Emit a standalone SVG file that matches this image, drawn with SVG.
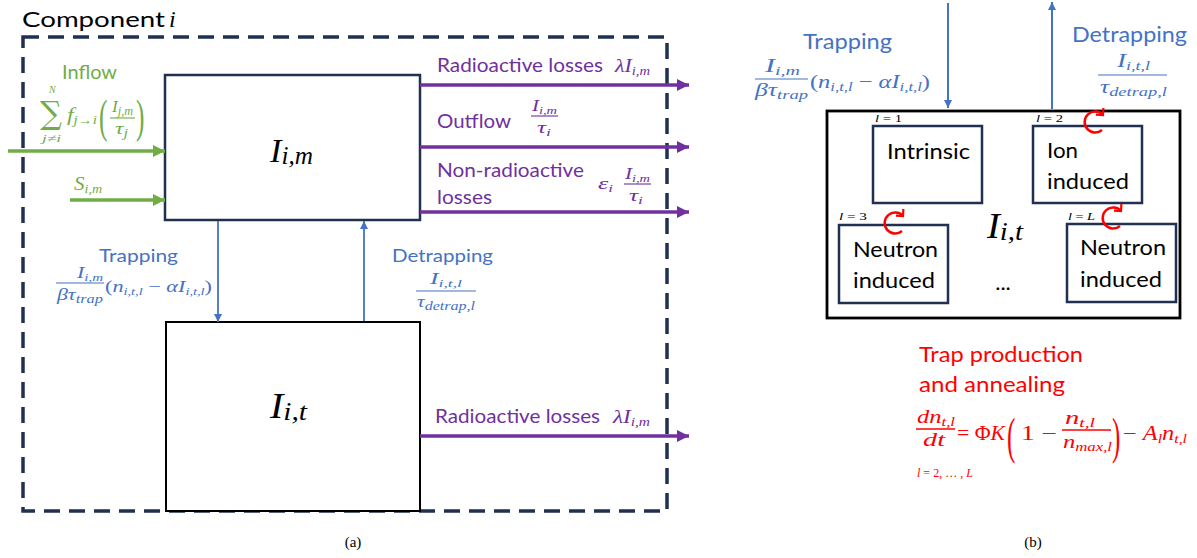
<svg xmlns="http://www.w3.org/2000/svg" width="1197" height="558" viewBox="0 0 1197 558">
<style>
.lbl{font-family:Lato,"Open Sans","Liberation Sans",sans-serif}
.m{font-family:"Liberation Serif","DejaVu Serif",serif;font-style:italic}
.n{font-style:normal}
.g{fill:#70ad47}.p{fill:#7030a0}.b{fill:#4472c4}.r{fill:#ff0000}.k{fill:#000}
.box{fill:#fff;stroke:#1f3050;stroke-width:2.5}
.bar{stroke-width:1.1}
</style>
<defs>
<marker id="ag" markerUnits="userSpaceOnUse" markerWidth="14" markerHeight="14" refX="12" refY="7" orient="auto"><path d="M0,1 L12,7 L0,13 Z" fill="#70ad47"/></marker>
<marker id="ap" markerUnits="userSpaceOnUse" markerWidth="14" markerHeight="14" refX="12" refY="7" orient="auto"><path d="M0,1 L12,7 L0,13 Z" fill="#7030a0"/></marker>
<marker id="ab" markerUnits="userSpaceOnUse" markerWidth="10" markerHeight="10" refX="8" refY="5" orient="auto"><path d="M0,1 L8,5 L0,9 Z" fill="#4472c4"/></marker>
<marker id="ar" markerUnits="userSpaceOnUse" markerWidth="12" markerHeight="12" refX="6" refY="6" orient="auto"><path d="M1,1 L6,6 L1,11" fill="none" stroke="#ff0000" stroke-width="2.2"/></marker>
</defs>

<!-- panel (a) -->
<g id="component">
<rect x="23" y="37" width="644" height="474" fill="none" stroke="#1f3050" stroke-width="3.5" stroke-dasharray="16 9"/>
<text x="22" y="27" class="lbl k" font-size="21" textLength="143" lengthAdjust="spacingAndGlyphs">Component</text>
<text x="169" y="27" class="m k" font-size="24">i</text>
</g>

<g id="node-Iim">
<rect class="box" x="165" y="75" width="255" height="145"/>
<text x="270" y="162" class="m k" font-size="34" textLength="43" lengthAdjust="spacingAndGlyphs">I<tspan font-size="25" dy="2">i,m</tspan></text>
</g>

<g id="node-Iit">
<rect x="166" y="322" width="254" height="189" fill="#fff" stroke="#000" stroke-width="2"/>
<text x="270" y="418" class="m k" font-size="35" textLength="37" lengthAdjust="spacingAndGlyphs">I<tspan font-size="26" dy="2">i,t</tspan></text>
</g>

<g id="connectors-a" fill="none">
<line x1="8" y1="151" x2="165" y2="151" stroke="#70ad47" stroke-width="3.5" marker-end="url(#ag)"/>
<line x1="70" y1="200" x2="165" y2="200" stroke="#70ad47" stroke-width="3.5" marker-end="url(#ag)"/>
<line x1="420" y1="85" x2="689" y2="85" stroke="#7030a0" stroke-width="3.5" marker-end="url(#ap)"/>
<line x1="420" y1="147" x2="689" y2="147" stroke="#7030a0" stroke-width="3.5" marker-end="url(#ap)"/>
<line x1="420" y1="212" x2="689" y2="212" stroke="#7030a0" stroke-width="3.5" marker-end="url(#ap)"/>
<line x1="420" y1="436" x2="689" y2="436" stroke="#7030a0" stroke-width="3.5" marker-end="url(#ap)"/>
<line x1="218" y1="221" x2="218" y2="322" stroke="#4472c4" stroke-width="1.8" marker-end="url(#ab)"/>
<line x1="364" y1="321" x2="364" y2="221" stroke="#4472c4" stroke-width="1.8" marker-end="url(#ab)"/>
</g>

<g id="label-inflow">
<text x="62" y="79" class="lbl g" font-size="19" textLength="55" lengthAdjust="spacingAndGlyphs">Inflow</text>
<text x="49" y="93" class="m g" font-size="10">N</text>
<text x="40" y="124" font-family="DejaVu Serif,serif" class="g" font-size="32" textLength="22" lengthAdjust="spacingAndGlyphs">∑</text>
<text x="42" y="142" class="m g" font-size="11" textLength="19" lengthAdjust="spacingAndGlyphs">j≠i</text>
<text x="67" y="121" class="m g" font-size="19" textLength="30" lengthAdjust="spacingAndGlyphs">f<tspan font-size="12" dy="3">j→i</tspan></text>
<text x="99" y="132" font-family="Liberation Serif,serif" class="g" font-size="46" transform="translate(99,132) scale(0.55,1) translate(-99,-132)">(</text>
<text x="112" y="112" class="m g" font-size="17" textLength="21" lengthAdjust="spacingAndGlyphs">I<tspan font-size="12" dy="3">j,m</tspan></text>
<line x1="110" y1="118" x2="135" y2="118" stroke="#70ad47" class="bar"/>
<text x="115" y="134" class="m g" font-size="17" textLength="13" lengthAdjust="spacingAndGlyphs">τ<tspan font-size="12" dy="3">j</tspan></text>
<text x="136" y="132" font-family="Liberation Serif,serif" class="g" font-size="46" transform="translate(136,132) scale(0.55,1) translate(-136,-132)">)</text>
<text x="74" y="190" class="m g" font-size="18" textLength="28" lengthAdjust="spacingAndGlyphs">S<tspan font-size="12" dy="3">i,m</tspan></text>
</g>

<g id="label-outputs">
<text x="437" y="72" class="lbl p" font-size="19" textLength="166" lengthAdjust="spacingAndGlyphs">Radioactive losses</text>
<text x="615" y="72" class="m p" font-size="18" textLength="35" lengthAdjust="spacingAndGlyphs">λI<tspan font-size="12" dy="3">i,m</tspan></text>
<text x="437" y="128" class="lbl p" font-size="19" textLength="74" lengthAdjust="spacingAndGlyphs">Outflow</text>
<text x="532" y="111" class="m p" font-size="16" textLength="25" lengthAdjust="spacingAndGlyphs">I<tspan font-size="11" dy="3">i,m</tspan></text>
<line x1="531" y1="116" x2="558" y2="116" stroke="#7030a0" class="bar"/>
<text x="537" y="133" class="m p" font-size="16" textLength="14" lengthAdjust="spacingAndGlyphs">τ<tspan font-size="11" dy="3">i</tspan></text>
<text x="437" y="177" class="lbl p" font-size="19" textLength="147" lengthAdjust="spacingAndGlyphs">Non-radioactive</text>
<text x="437" y="204" class="lbl p" font-size="19" textLength="55" lengthAdjust="spacingAndGlyphs">losses</text>
<text x="598" y="189" class="m p" font-size="17" textLength="15" lengthAdjust="spacingAndGlyphs">ε<tspan font-size="11" dy="3">i</tspan></text>
<text x="625" y="179" class="m p" font-size="16" textLength="25" lengthAdjust="spacingAndGlyphs">I<tspan font-size="11" dy="3">i,m</tspan></text>
<line x1="624" y1="184" x2="651" y2="184" stroke="#7030a0" class="bar"/>
<text x="629" y="201" class="m p" font-size="16" textLength="14" lengthAdjust="spacingAndGlyphs">τ<tspan font-size="11" dy="3">i</tspan></text>
<text x="435" y="423" class="lbl p" font-size="19" textLength="165" lengthAdjust="spacingAndGlyphs">Radioactive losses</text>
<text x="613" y="423" class="m p" font-size="18" textLength="37" lengthAdjust="spacingAndGlyphs">λI<tspan font-size="12" dy="3">i,m</tspan></text>
</g>

<g id="label-trapping-a">
<text x="99" y="262" class="lbl b" font-size="18" textLength="79" lengthAdjust="spacingAndGlyphs">Trapping</text>
<text x="77" y="278" class="m b" font-size="16" textLength="26" lengthAdjust="spacingAndGlyphs">I<tspan font-size="11" dy="3">i,m</tspan></text>
<line x1="56" y1="283" x2="104" y2="283" stroke="#4472c4" class="bar"/>
<text x="57" y="300" class="m b" font-size="16" textLength="46" lengthAdjust="spacingAndGlyphs">βτ<tspan font-size="12" dy="3">trap</tspan></text>
<text x="105" y="292" class="m b" font-size="17" textLength="107" lengthAdjust="spacingAndGlyphs"><tspan class="n">(</tspan>n<tspan font-size="11" dy="3">i,t,l</tspan><tspan dy="-3" class="n"> − </tspan>αI<tspan font-size="11" dy="3">i,t,l</tspan><tspan dy="-3" class="n">)</tspan></text>
</g>

<g id="label-detrapping-a">
<text x="392" y="262" class="lbl b" font-size="18" textLength="101" lengthAdjust="spacingAndGlyphs">Detrapping</text>
<text x="430" y="284" class="m b" font-size="16" textLength="32" lengthAdjust="spacingAndGlyphs">I<tspan font-size="11" dy="3">i,t,l</tspan></text>
<line x1="416" y1="291" x2="476" y2="291" stroke="#4472c4" class="bar"/>
<text x="417" y="307" class="m b" font-size="16" textLength="58" lengthAdjust="spacingAndGlyphs">τ<tspan font-size="12" dy="3">detrap,l</tspan></text>
</g>

<text x="353" y="547" font-family="Liberation Serif,serif" font-size="15" text-anchor="middle" fill="#000">(a)</text>

<!-- panel (b) -->
<g id="connectors-b" fill="none">
<line x1="948" y1="3" x2="948" y2="108" stroke="#4472c4" stroke-width="2" marker-end="url(#ab)"/>
<line x1="1052" y1="109" x2="1052" y2="2" stroke="#4472c4" stroke-width="2" marker-end="url(#ab)"/>
</g>

<g id="label-trapping-b">
<text x="803" y="49" class="lbl b" font-size="21" textLength="89" lengthAdjust="spacingAndGlyphs">Trapping</text>
<text x="765" y="72" class="m b" font-size="18" textLength="35" lengthAdjust="spacingAndGlyphs">I<tspan font-size="12" dy="3">i,m</tspan></text>
<line x1="755" y1="79" x2="808" y2="79" stroke="#4472c4" class="bar"/>
<text x="755" y="96" class="m b" font-size="18" textLength="53" lengthAdjust="spacingAndGlyphs">βτ<tspan font-size="13" dy="3">trap</tspan></text>
<text x="810" y="88" class="m b" font-size="19" textLength="120" lengthAdjust="spacingAndGlyphs"><tspan class="n">(</tspan>n<tspan font-size="13" dy="3">i,t,l</tspan><tspan dy="-3" class="n"> − </tspan>αI<tspan font-size="13" dy="3">i,t,l</tspan><tspan dy="-3" class="n">)</tspan></text>
</g>

<g id="label-detrapping-b">
<text x="1072" y="42" class="lbl b" font-size="21" textLength="115" lengthAdjust="spacingAndGlyphs">Detrapping</text>
<text x="1117" y="67" class="m b" font-size="18" textLength="33" lengthAdjust="spacingAndGlyphs">I<tspan font-size="12" dy="3">i,t,l</tspan></text>
<line x1="1098" y1="75" x2="1167" y2="75" stroke="#4472c4" class="bar"/>
<text x="1100" y="93" class="m b" font-size="18" textLength="67" lengthAdjust="spacingAndGlyphs">τ<tspan font-size="13" dy="3">detrap,l</tspan></text>
</g>

<g id="node-trap-box">
<rect x="827" y="111" width="353" height="207" fill="#fff" stroke="#000" stroke-width="2.8"/>
<text x="987" y="238" class="m k" font-size="35" textLength="36" lengthAdjust="spacingAndGlyphs">I<tspan font-size="26" dy="2">i,t</tspan></text>
<text x="1003" y="290" class="lbl k" font-size="22" text-anchor="middle">...</text>
</g>

<g id="node-intrinsic">
<rect class="box" x="873" y="126" width="109" height="77"/>
<text x="875" y="122" class="m k" font-size="11" textLength="27" lengthAdjust="spacingAndGlyphs">l <tspan class="n">= 1</tspan></text>
<text x="887" y="159" class="lbl k" font-size="22" textLength="83" lengthAdjust="spacingAndGlyphs">Intrinsic</text>
</g>

<g id="node-ion">
<rect class="box" x="1033" y="126" width="109" height="77"/>
<text x="1036" y="122" class="m k" font-size="11" textLength="27" lengthAdjust="spacingAndGlyphs">l <tspan class="n">= 2</tspan></text>
<text x="1047" y="158" class="lbl k" font-size="22" textLength="31" lengthAdjust="spacingAndGlyphs">Ion</text>
<text x="1047" y="189" class="lbl k" font-size="22" textLength="82" lengthAdjust="spacingAndGlyphs">induced</text>
<path d="M1102,130 A10.5,10.5 0 1 1 1103,115" fill="none" stroke="#ff0000" stroke-width="2.5" marker-end="url(#ar)"/>
</g>

<g id="node-neutron-3">
<rect class="box" x="839" y="225" width="109" height="78"/>
<text x="839" y="220" class="m k" font-size="11" textLength="28" lengthAdjust="spacingAndGlyphs">l <tspan class="n">= 3</tspan></text>
<text x="853" y="257" class="lbl k" font-size="22" textLength="85" lengthAdjust="spacingAndGlyphs">Neutron</text>
<text x="853" y="288" class="lbl k" font-size="22" textLength="82" lengthAdjust="spacingAndGlyphs">induced</text>
<path d="M902,231 A10.5,10.5 0 1 1 903,216" fill="none" stroke="#ff0000" stroke-width="2.5" marker-end="url(#ar)"/>
</g>

<g id="node-neutron-L">
<rect class="box" x="1067" y="224" width="109" height="78"/>
<text x="1068" y="220" class="m k" font-size="11" textLength="27" lengthAdjust="spacingAndGlyphs">l <tspan class="n">= </tspan>L</text>
<text x="1080" y="255" class="lbl k" font-size="22" textLength="86" lengthAdjust="spacingAndGlyphs">Neutron</text>
<text x="1080" y="287" class="lbl k" font-size="22" textLength="82" lengthAdjust="spacingAndGlyphs">induced</text>
<path d="M1120,226 A10.5,10.5 0 1 1 1121,211" fill="none" stroke="#ff0000" stroke-width="2.5" marker-end="url(#ar)"/>
</g>

<g id="label-trap-production">
<text x="919" y="362" class="lbl r" font-size="21" textLength="164" lengthAdjust="spacingAndGlyphs">Trap production</text>
<text x="919" y="392" class="lbl r" font-size="21" textLength="146" lengthAdjust="spacingAndGlyphs">and annealing</text>
<text x="917" y="423" class="m r" font-size="19" textLength="38" lengthAdjust="spacingAndGlyphs">dn<tspan font-size="13" dy="3">t,l</tspan></text>
<line x1="916" y1="429" x2="955" y2="429" stroke="#ff0000" stroke-width="1.3"/>
<text x="923" y="446" class="m r" font-size="19" textLength="22" lengthAdjust="spacingAndGlyphs">dt</text>
<text x="957" y="440" class="m r" font-size="20" textLength="48" lengthAdjust="spacingAndGlyphs"><tspan class="n">= Φ</tspan>K</text>
<text x="1007" y="453" font-family="Liberation Serif,serif" class="r" font-size="50" transform="translate(1007,453) scale(0.5,1) translate(-1007,-453)">(</text>
<text x="1021" y="440" font-family="Liberation Serif,serif" class="r" font-size="20" textLength="36" lengthAdjust="spacingAndGlyphs">1 −</text>
<text x="1065" y="424" class="m r" font-size="19" textLength="30" lengthAdjust="spacingAndGlyphs">n<tspan font-size="13" dy="3">t,l</tspan></text>
<line x1="1062" y1="430" x2="1111" y2="430" stroke="#ff0000" stroke-width="1.3"/>
<text x="1063" y="448" class="m r" font-size="19" textLength="49" lengthAdjust="spacingAndGlyphs">n<tspan font-size="13" dy="3">max,l</tspan></text>
<text x="1112" y="453" font-family="Liberation Serif,serif" class="r" font-size="50" transform="translate(1112,453) scale(0.5,1) translate(-1112,-453)">)</text>
<text x="1123" y="440" class="m r" font-size="20" textLength="64" lengthAdjust="spacingAndGlyphs"><tspan class="n">− </tspan>A<tspan font-size="13" dy="3">l</tspan><tspan dy="-3">n</tspan><tspan font-size="13" dy="3">t,l</tspan></text>
<text x="917" y="477" class="m r" font-size="12" textLength="56" lengthAdjust="spacingAndGlyphs">l <tspan class="n">= 2, … , </tspan>L</text>
</g>

<text x="1033" y="547" font-family="Liberation Serif,serif" font-size="15" text-anchor="middle" fill="#000">(b)</text>
</svg>
